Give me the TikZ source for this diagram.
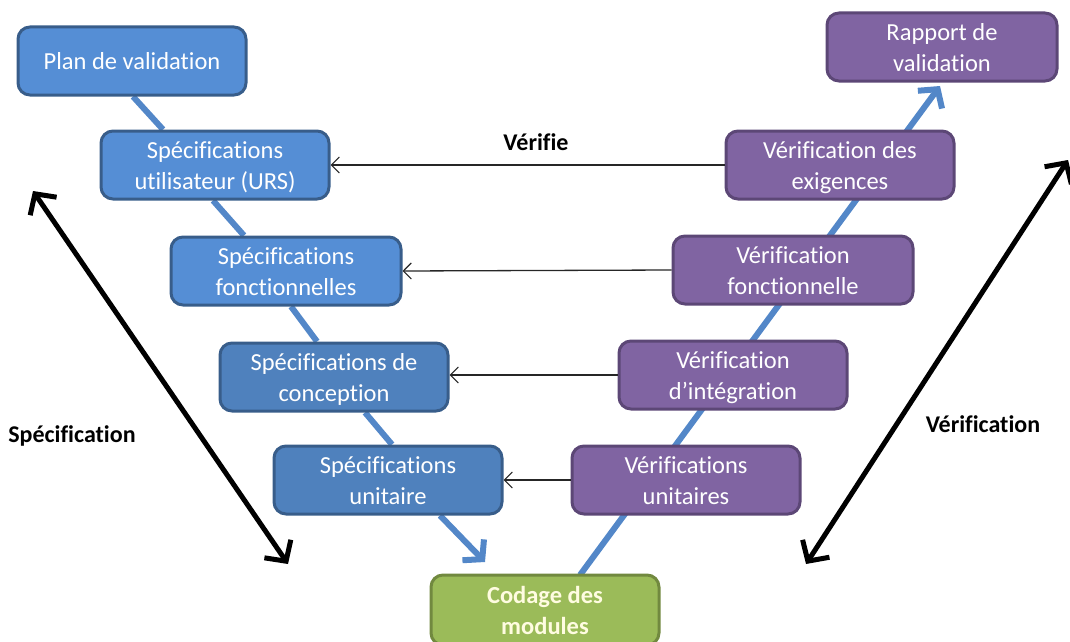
\documentclass[tikz,border=0pt]{standalone}
\usepackage{fontspec}
\setmainfont{Carlito}[Ligatures={NoCommon}]
\usetikzlibrary{arrows.meta, backgrounds}

\definecolor{bluefillA}{RGB}{85,142,213}
\definecolor{bluefillB}{RGB}{79,129,189}
\definecolor{blueedge}{RGB}{56,93,138}
\definecolor{purplefill}{RGB}{128,100,162}
\definecolor{purpleedge}{RGB}{92,71,118}
\definecolor{greenfill}{RGB}{155,187,89}
\definecolor{greenedge}{RGB}{113,137,63}
\definecolor{vline}{RGB}{83,135,200}
\definecolor{codetext}{RGB}{255,252,225}

\tikzset{
  phase/.style={rectangle, rounded corners=12pt, draw, line width=3pt,
    minimum width=228pt, minimum height=68pt, align=center, text=white,
    font=\fontsize{24.5}{30.5}\selectfont, inner sep=2pt},
  twolines/.style={text height=54pt, text depth=6pt},
  specA/.style={phase, fill=bluefillA, draw=blueedge},
  specB/.style={phase, fill=bluefillB, draw=blueedge},
  verif/.style={phase, twolines, fill=purplefill, draw=purpleedge},
  coding/.style={phase, fill=greenfill, draw=greenedge, text=codetext,
    font=\fontsize{24.5}{30.5}\selectfont\bfseries},
  flow/.style={draw=vline, line width=6pt},
  flowtip/.style={flow, -{Straight Barb[length=13pt, width=30pt, line width=6pt]}},
  checks/.style={draw=black!85, line width=1.3pt,
    -{Straight Barb[length=8pt, width=16pt, line width=1.1pt]}},
  span/.style={draw=black, line width=5pt,
    {Straight Barb[length=15pt, width=32pt, line width=5pt]}-{Straight Barb[length=15pt, width=32pt, line width=5pt]}},
  label/.style={font=\fontsize{24}{28}\selectfont\bfseries, text=black}
}

\begin{document}
\begin{tikzpicture}[x=1pt, y=-1pt]
\useasboundingbox (0,0) rectangle (1070,642);

% descending branch: specifications
\node[specA] (plan) at (132,61) {Plan de validation};
\node[specA, twolines] (urs)  at (215,165) {Spécifications\\utilisateur (URS)};
\node[specA, twolines] (fon)  at (286,271) [minimum width=230pt] {Spécifications\\fonctionnelles};
\node[specB, twolines] (con)  at (334,377) {Spécifications de\\conception};
\node[specB, twolines] (uni)  at (388,480) {Spécifications\\unitaire};

% bottom of the V
\node[coding, twolines] (cod) at (545,610) [minimum height=70pt] {Codage des\\modules};

% ascending branch: verifications
\node[verif] (rap) at (942,47)  [minimum width=230pt] {Rapport de\\validation};
\node[verif] (vex) at (840,165) {Vérification des\\exigences};
\node[verif] (vfo) at (793,270) [minimum width=240pt] {Vérification\\fonctionnelle};
\node[verif] (vin) at (733,375) {Vérification\\d’intégration};
\node[verif] (vun) at (686,480) {Vérifications\\unitaires};

% V-shaped flow lines, behind the boxes
\coordinate (downtip) at (485,562);
\coordinate (upstart) at (580,575);
\coordinate (uptip)   at (940,86);
\begin{pgfonlayer}{background}
  \draw[flow] ([xshift=1pt]plan.south) -- ([xshift=-52pt]urs.north);
  \draw[flow] ([xshift=-2pt]urs.south) -- ([xshift=-42pt]fon.north);
  \draw[flow] ([xshift=5pt]fon.south) -- ([xshift=-17pt]con.north);
  \draw[flow] ([xshift=31pt]con.south) -- ([xshift=4pt]uni.north);
  \draw[flowtip] ([xshift=52pt]uni.south) -- (downtip);
  \draw[flowtip] (upstart) -- (uptip);
\end{pgfonlayer}

% verification links between the two branches
\draw[checks] (vex.west) -- (urs.east);
\draw[checks] (vfo.west) -- (fon.east);
\draw[checks] (vin.west) -- (con.east |- vin.west);
\draw[checks] (vun.west) -- (uni.east);
\node[label] (verifie) at (536,142) {Vérifie};

% phase spans
\coordinate (specTop) at (33,191);
\coordinate (specBot) at (288,564);
\coordinate (verBot)  at (806,564);
\coordinate (verTop)  at (1068,160);
\draw[span] (specTop) -- (specBot);
\draw[span] (verBot) -- (verTop);
\node[label] (spec) at (72,436) {Spécification};
\node[label] (verif) at (983,424) {Vérification};
\end{tikzpicture}
\end{document}
